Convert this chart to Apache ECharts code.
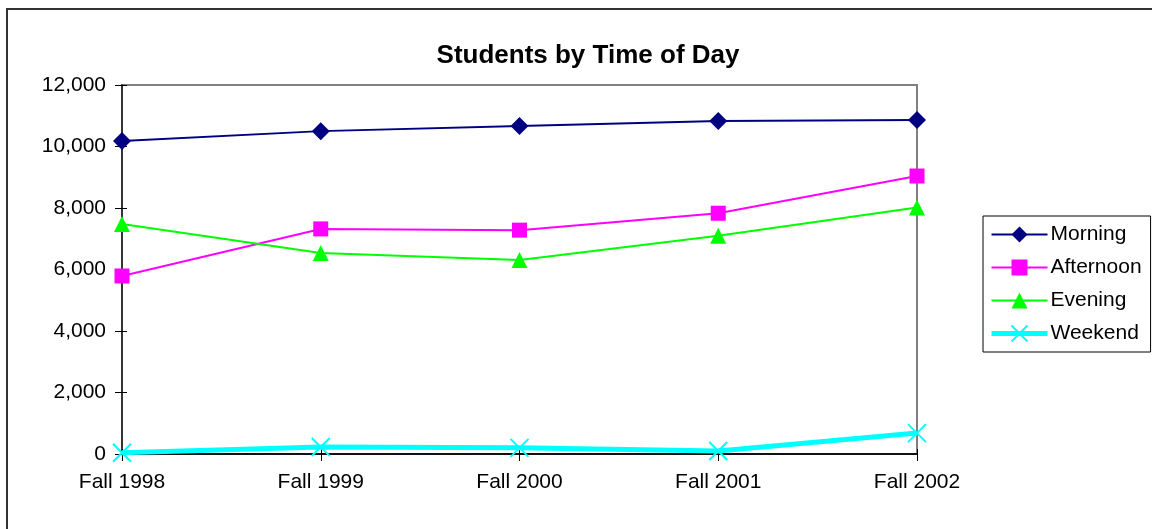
<!DOCTYPE html>
<html>
<head>
<meta charset="utf-8">
<script src="https://cdn.jsdelivr.net/npm/echarts@6/dist/echarts.min.js"></script>
<style>html,body{margin:0;padding:0;background:#fff}#c{width:1152px;height:529px}</style>
</head>
<body>
<div id="c"></div>
<script>
const categories = ['Fall 1998', 'Fall 1999', 'Fall 2000', 'Fall 2001', 'Fall 2002'];
const morning = [10180, 10500, 10670, 10830, 10860];
const afternoon = [5790, 7320, 7280, 7830, 9040];
const evening = [7480, 6540, 6310, 7100, 8020];
const weekend = [40, 230, 200, 100, 680];
const yTicks = [0, 2000, 4000, 6000, 8000, 10000, 12000];

const FONT = '"Liberation Sans", Arial, sans-serif';
const chart = echarts.init(document.getElementById('c'), null, {renderer: 'canvas'});
const crossPath = 'path://M0,0L10,10M10,0L0,10';

chart.setOption({
  animation: false,
  backgroundColor: '#fff',
  textStyle: {fontFamily: FONT},
  title: {
    text: 'Students by Time of Day',
    left: 583, top: 38, textAlign: 'center',
    textStyle: {fontFamily: FONT, fontSize: 26, fontWeight: 'bold', color: '#000'}
  },
  graphic: [{
    type: 'rect', shape: {x: 7, y: 9, width: 1300, height: 700},
    style: {fill: 'none', stroke: '#333', lineWidth: 2}, silent: true
  }],
  legend: {
    orient: 'vertical', left: 983, top: 216,
    padding: [8, 9, 8, 6],
    itemWidth: 56, itemHeight: 20, itemGap: 12,
    borderColor: '#000', borderWidth: 1,
    textStyle: {fontFamily: FONT, fontSize: 21, color: '#000', padding: [0, 0, 0, -2]},
    data: [
      {name: 'Morning', lineStyle: {width: 2}},
      {name: 'Afternoon', lineStyle: {width: 2}},
      {name: 'Evening', lineStyle: {width: 2}},
      {name: 'Weekend', lineStyle: {width: 5}}
    ]
  },
  grid: {left: 122, right: 235, top: 85, bottom: 75, show: true, borderColor: '#808080', borderWidth: 2, backgroundColor: 'transparent'},
  xAxis: [{
    type: 'category', data: categories, boundaryGap: false,
    axisLine: {lineStyle: {color: '#111', width: 2}},
    axisTick: {show: true, length: 7, lineStyle: {color: '#000'}},
    axisLabel: {fontFamily: FONT, fontSize: 21, color: '#000', margin: 18},
    splitLine: {show: false}
  }, {
    type: 'category', data: categories, boundaryGap: false, position: 'bottom',
    axisLine: {show: false},
    axisTick: {show: true, inside: true, length: 5, lineStyle: {color: '#000'}},
    axisLabel: {show: false}, splitLine: {show: false}
  }],
  yAxis: [{
    type: 'value', min: yTicks[0], max: yTicks[yTicks.length - 1], interval: yTicks[1] - yTicks[0],
    axisLine: {show: true, lineStyle: {color: '#333', width: 2}},
    axisTick: {show: true, length: 7, lineStyle: {color: '#000'}},
    axisLabel: {fontFamily: FONT, fontSize: 21, color: '#000', margin: 16,
      formatter: v => v.toLocaleString('en-US')},
    splitLine: {show: false}
  }, {
    type: 'value', position: 'left', min: yTicks[0], max: yTicks[yTicks.length - 1], interval: yTicks[1] - yTicks[0],
    axisLine: {show: false},
    axisTick: {show: true, inside: true, length: 5, lineStyle: {color: '#000'}},
    axisLabel: {show: false}, splitLine: {show: false}
  }],
  series: [
    {name: 'Morning', type: 'line', data: morning, symbol: 'diamond', symbolSize: 18,
      lineStyle: {color: '#000080', width: 2}, itemStyle: {color: '#000080'}},
    {name: 'Afternoon', type: 'line', data: afternoon, symbol: 'rect', symbolSize: 15,
      lineStyle: {color: '#FF00FF', width: 2}, itemStyle: {color: '#FF00FF'}},
    {name: 'Evening', type: 'line', data: evening, symbol: 'triangle', symbolSize: 16,
      lineStyle: {color: '#00FF00', width: 2}, itemStyle: {color: '#00FF00'}},
    {name: 'Weekend', type: 'line', data: weekend, symbol: crossPath, symbolSize: 18,
      lineStyle: {color: '#00FFFF', width: 5},
      itemStyle: {color: '#00FFFF', borderColor: '#00FFFF', borderWidth: 2}}
  ]
});
</script>
</body>
</html>
